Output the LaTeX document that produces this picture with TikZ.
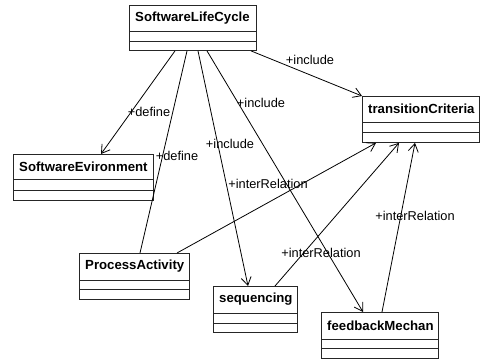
\documentclass[tikz,border=0pt]{standalone}
\usepackage{fontspec}
\setmainfont{Liberation Sans}
\usetikzlibrary{arrows.meta}
\begin{document}
\begin{tikzpicture}[x=1pt,y=-1pt,
  cls/.style={draw=black!85, line width=0.9pt, fill=white, inner sep=0pt, anchor=north west},
  ttl/.style={font=\fontsize{13.2}{15}\selectfont\bfseries, anchor=west, inner sep=0pt},
  lbl/.style={font=\fontsize{12.8}{14}\selectfont, inner sep=0pt},
  conn/.style={line width=0.8pt},
  arr/.style={conn, -{Straight Barb[length=8pt,width=10pt,line width=0.8pt]}}]
\useasboundingbox (0,0) rectangle (489,363);
% classes: name, x1, y1, x2, y2, line1, line2
\newcommand{\umlcls}[8]{%
  \node[cls, minimum width={#4-#2}, minimum height={#5-#3}] (#1) at (#2,#3) {};
  \draw[line width=0.9pt, draw=black!85] (#2,#6) -- (#4,#6) (#2,#7) -- (#4,#7);
  \node[ttl] (#1-t) at ({#2+6},{(#3+#6)/2}) {#8};}
\umlcls{slc}{129}{5}{256}{50}{31}{41}{SoftwareLifeCycle}
\umlcls{tc}{362}{96}{479}{142}{122}{132}{transitionCriteria}
\umlcls{se}{13}{154}{153}{200}{179}{190}{SoftwareEvironment}
\umlcls{pa}{79}{253}{189}{299}{280}{289}{ProcessActivity}
\umlcls{seq}{213}{286}{297}{332}{313}{323}{sequencing}
\umlcls{fb}{321}{312}{438}{358}{339}{348}{feedbackMechan}
% connectors
\draw[arr] ([xshift=122pt]slc.south west) -- (tc.north west);
\draw[arr] ([xshift=46pt]slc.south west) -- ([xshift=88pt]se.north west);
\draw[conn] ([xshift=58pt]slc.south west) -- ([xshift=61pt]pa.north west);
\draw[arr] ([xshift=69pt]slc.south west) -- ([xshift=35pt]seq.north west);
\draw[arr] ([xshift=78pt]slc.south west) -- ([xshift=42pt]fb.north west);
\draw[arr] ([xshift=98pt]pa.north west) -- ([xshift=14pt]tc.south west);
\draw[arr] ([xshift=62pt]seq.north west) -- ([xshift=37pt]tc.south west);
\draw[arr] ([xshift=61pt]fb.north west) -- ([xshift=53pt]tc.south west);
% labels
\node[lbl] (l1) at (310,60) {+include};
\node[lbl] (l2) at (149,112) {+define};
\node[lbl] (l3) at (177,156) {+define};
\node[lbl] (l4) at (230,144) {+include};
\node[lbl] (l5) at (261,103) {+include};
\node[lbl] (l6) at (268,184) {+interRelation};
\node[lbl] (l7) at (321,253) {+interRelation};
\node[lbl] (l8) at (415,216) {+interRelation};
\end{tikzpicture}
\end{document}
